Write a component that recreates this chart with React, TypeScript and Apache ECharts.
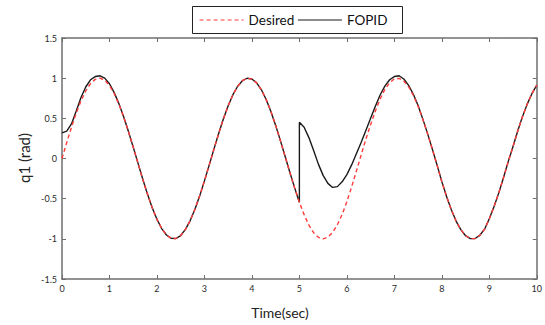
import React, { useEffect, useRef } from "react";
import * as echarts from "echarts";

// Time step between samples (sec)
const STEP = 0.1;

// Desired trajectory, sampled at t = 0, 0.1, ..., 10
const desired = [
  0, 0.199, 0.389, 0.565, 0.717, 0.841, 0.932, 0.985, 1.0, 0.974,
  0.909, 0.808, 0.675, 0.516, 0.335, 0.141, -0.058, -0.256, -0.443, -0.612,
  -0.757, -0.872, -0.952, -0.994, -0.996, -0.959, -0.883, -0.773, -0.631, -0.465,
  -0.279, -0.083, 0.117, 0.312, 0.494, 0.657, 0.794, 0.899, 0.968, 0.999,
  0.989, 0.941, 0.855, 0.734, 0.585, 0.412, 0.223, 0.025, -0.174, -0.366,
  -0.544, -0.699, -0.828, -0.924, -0.981, -1.0, -0.98, -0.921, -0.825, -0.697,
  -0.537, -0.354, -0.158, 0.042, 0.24, 0.42, 0.592, 0.74, 0.86, 0.945,
  0.991, 0.998, 0.965, 0.893, 0.787, 0.65, 0.489, 0.31, 0.117, -0.083,
  -0.288, -0.474, -0.639, -0.779, -0.886, -0.961, -0.998, -0.996, -0.956, -0.88,
  -0.751, -0.598, -0.428, -0.236, -0.036, 0.15, 0.345, 0.524, 0.68, 0.81,
  0.913,
];

// FOPID response, t = 0 ... 5 (before the disturbance)
const fopidBefore = [
  0.32, 0.34, 0.43, 0.59, 0.76, 0.89, 0.98, 1.02, 1.03, 1.0,
  0.93, 0.82, 0.68, 0.516, 0.335, 0.141, -0.058, -0.256, -0.443, -0.612,
  -0.757, -0.872, -0.952, -0.994, -0.996, -0.959, -0.883, -0.773, -0.631, -0.465,
  -0.279, -0.083, 0.117, 0.312, 0.494, 0.657, 0.794, 0.899, 0.968, 0.999,
  0.989, 0.941, 0.855, 0.734, 0.585, 0.412, 0.223, 0.025, -0.174, -0.366,
  -0.544,
];

// FOPID response, t = 5 ... 10 (after the disturbance)
const fopidAfter = [
  0.45, 0.39, 0.26, 0.1, -0.07, -0.21, -0.31, -0.36, -0.35, -0.29,
  -0.2, -0.08, 0.06, 0.2, 0.35, 0.5, 0.65, 0.79, 0.9, 0.98,
  1.02, 1.03, 0.99, 0.91, 0.8, 0.66, 0.49, 0.31, 0.117, -0.083,
  -0.288, -0.474, -0.639, -0.779, -0.886, -0.961, -0.998, -0.996, -0.956, -0.88,
  -0.751, -0.598, -0.428, -0.236, -0.036, 0.15, 0.345, 0.524, 0.68, 0.81,
  0.913,
];
const DISTURB_T = 5;

const seriesNames = ["Desired", "FOPID"];

export default function App() {
  const ref = useRef<HTMLDivElement>(null);
  useEffect(() => {
    document.body.style.margin = "0";
    const chart = echarts.init(ref.current!, null, { renderer: "svg" });
    const toT = (i: number) => Math.round(i * STEP * 1000) / 1000;
    const desiredData = desired.map((v, i) => [toT(i), v]);
    const fopidData = [
      ...fopidBefore.map((v, i) => [toT(i), v]),
      ...fopidAfter.map((v, i) => [DISTURB_T + toT(i), v]),
    ];
    const axisColor = "#6f6f6f";
    const labelStyle = { fontSize: 9, color: "#2a2a2a", fontFamily: "Lato" };
    const lineAxis = { show: true, onZero: false, lineStyle: { color: axisColor, width: 1.5 } };
    const tick = { show: true, inside: true, length: 4, lineStyle: { color: axisColor, width: 1 } };
    chart.setOption({
      animation: false,
      backgroundColor: "#fff",
      grid: { left: 62, right: 3, top: 38, bottom: 46, containLabel: false },
      xAxis: [
        {
          type: "value", min: 0, max: 10, interval: 1, position: "bottom",
          axisLine: lineAxis, axisTick: tick, splitLine: { show: false },
          axisLabel: { ...labelStyle, margin: 5 },
        },
        {
          type: "value", min: 0, max: 10, interval: 1, position: "top",
          axisLine: lineAxis, axisTick: tick, splitLine: { show: false },
          axisLabel: { show: false },
        },
      ],
      yAxis: [
        {
          type: "value", min: -1.5, max: 1.5, interval: 0.5, position: "left",
          axisLine: lineAxis, axisTick: tick, splitLine: { show: false },
          axisLabel: { ...labelStyle, margin: 5 },
        },
        {
          type: "value", min: -1.5, max: 1.5, interval: 0.5, position: "right",
          axisLine: lineAxis, axisTick: tick, splitLine: { show: false },
          axisLabel: { show: false },
        },
      ],
      legend: {
        data: seriesNames,
        left: 199,
        top: 13,
        padding: 0,
        itemWidth: 44,
        itemHeight: 12,
        itemGap: 3,
        itemStyle: { opacity: 0 },
        lineStyle: { width: 1.2 },
        textStyle: { fontSize: 13.5, color: "#111", fontFamily: "Lato", padding: [0, 0, 0, 0] },
      },
      graphic: [
        {
          type: "rect",
          x: 192.5, y: 6.5,
          shape: { width: 210, height: 27 },
          style: { fill: "#fff", stroke: "#222", lineWidth: 1 },
          z: -10,
        },
        {
          type: "text",
          x: 24, y: 158,
          rotation: Math.PI / 2,
          style: {
            text: "q1 (rad)", fontSize: 15, fontFamily: "Lato", fill: "#222",
            textAlign: "center", textVerticalAlign: "middle",
          },
        },
        {
          type: "text",
          x: 280, y: 312,
          style: {
            text: "Time(sec)", fontSize: 14, fontFamily: "Lato", fill: "#222",
            textAlign: "center", textVerticalAlign: "middle",
          },
        },
      ],
      series: [
        {
          name: "FOPID",
          type: "line",
          data: fopidData,
          symbol: "none",
          lineStyle: { color: "#1a1a1a", width: 1.4 },
          itemStyle: { color: "#1a1a1a" },
          z: 2,
        },
        {
          name: "Desired",
          type: "line",
          data: desiredData,
          symbol: "none",
          lineStyle: { color: "#ff3b3b", width: 1.4, type: [4, 3] },
          itemStyle: { color: "#ff3b3b" },
          z: 3,
        },
      ],
    });
    return () => chart.dispose();
  }, []);
  return <div ref={ref} style={{ width: 545, height: 325 }} />;
}
